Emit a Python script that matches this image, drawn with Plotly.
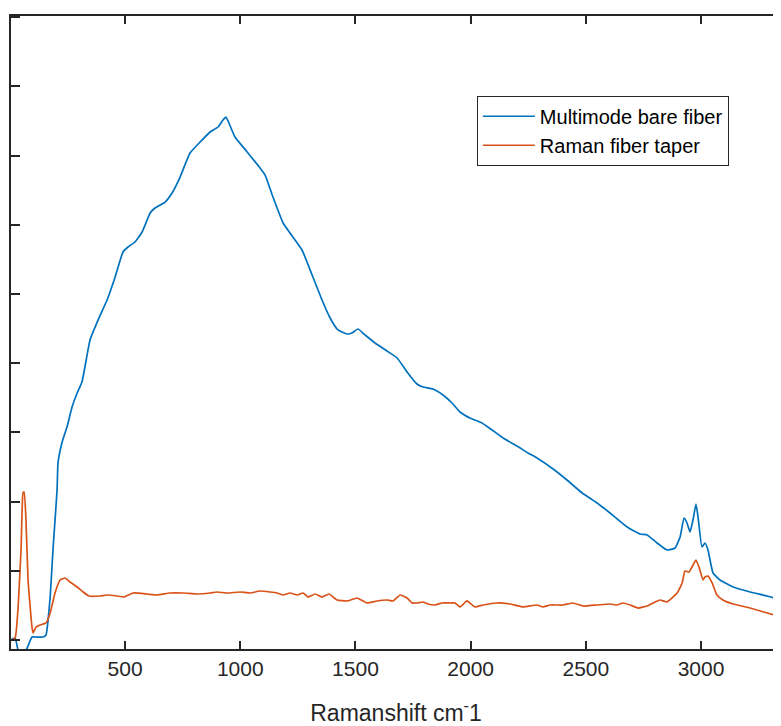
import plotly.graph_objects as go

# Raman shift (cm^-1) and intensity (a.u.)
bare_x = [8, 23, 44, 75, 96, 118, 144, 157, 166, 175, 188, 205, 209, 227, 248, 270,
          292, 313, 348, 385, 422, 457, 491, 513, 543, 574, 609, 630, 674, 704, 739,
          782, 826, 869, 904, 925, 938, 951, 977, 1030, 1086, 1108, 1142, 1186, 1216,
          1268, 1312, 1355, 1390, 1424, 1464, 1485, 1511, 1542, 1585, 1637, 1681, 1724,
          1767, 1793, 1837, 1880, 1919, 1954, 1997, 2049, 2093, 2141, 2201, 2249, 2288,
          2358, 2418, 2484, 2549, 2605, 2679, 2735, 2766, 2809, 2852, 2887, 2909, 2926,
          2939, 2952, 2965, 2978, 2987, 3004, 3017, 3030, 3052, 3082, 3139, 3213, 3287,
          3347, 3390]
bare_y = [14, 29, -260, -116, 43, 43, 43, 72, 289, 621, 1344, 2168, 2558, 2861, 3078,
          3367, 3569, 3728, 4335, 4640, 4913, 5245, 5607, 5679, 5751, 5896, 6170, 6242,
          6329, 6459, 6690, 7037, 7196, 7341, 7413, 7514, 7557, 7471, 7268, 7052, 6820,
          6719, 6401, 6026, 5881, 5636, 5274, 4913, 4653, 4480, 4422, 4436, 4494, 4407,
          4292, 4176, 4075, 3873, 3699, 3656, 3627, 3540, 3425, 3295, 3208, 3136, 3035,
          2919, 2803, 2702, 2630, 2471, 2312, 2124, 1980, 1835, 1633, 1532, 1517, 1402,
          1301, 1329, 1488, 1763, 1691, 1561, 1734, 1965, 1777, 1344, 1402, 1301, 968,
          867, 766, 694, 636, 578, 555]

taper_x = [8, 23, 36, 49, 57, 62, 70, 79, 96, 101, 114, 131, 157, 175, 196, 218, 240,
           261, 292, 318, 344, 391, 422, 465, 496, 535, 595, 639, 695, 752, 812, 869,
           899, 943, 999, 1043, 1086, 1129, 1160, 1186, 1216, 1247, 1273, 1294, 1325,
           1355, 1385, 1420, 1464, 1507, 1550, 1594, 1637, 1663, 1694, 1724, 1746, 1767,
           1793, 1815, 1845, 1876, 1911, 1932, 1954, 1984, 2019, 2054, 2115, 2171, 2227,
           2288, 2314, 2345, 2401, 2444, 2488, 2549, 2605, 2635, 2661, 2692, 2727, 2766,
           2792, 2822, 2852, 2896, 2918, 2930, 2948, 2965, 2978, 2991, 3009, 3017, 3030,
           3048, 3069, 3095, 3139, 3213, 3287, 3347, 3390]
taper_y = [0, 29, 477, 1344, 2124, 2139, 1734, 867, 188, 101, 188, 217, 246, 390, 679,
           867, 896, 838, 766, 694, 636, 636, 650, 636, 621, 679, 665, 650, 679, 679,
           665, 679, 694, 679, 694, 679, 708, 694, 679, 650, 679, 650, 679, 621, 665,
           621, 665, 578, 564, 607, 535, 564, 578, 564, 650, 607, 535, 535, 549, 520,
           506, 535, 535, 535, 477, 564, 477, 506, 535, 520, 477, 506, 477, 506, 506,
           535, 491, 506, 520, 506, 535, 506, 462, 491, 535, 578, 549, 679, 824, 997,
           983, 1084, 1156, 1055, 867, 910, 925, 824, 650, 578, 520, 462, 390, 332, 290]

ink = "#262626"
font = "Liberation Sans, Arial, sans-serif"

fig = go.Figure()
fig.add_trace(go.Scatter(x=bare_x, y=bare_y, mode="lines", name="Multimode bare fiber",
                         line=dict(color="#0072BD", width=1.7, shape="spline", smoothing=0.4)))
fig.add_trace(go.Scatter(x=taper_x, y=taper_y, mode="lines", name="Raman fiber taper",
                         line=dict(color="#D95319", width=1.7, shape="spline", smoothing=0.4)))

# page body adds an 8px offset, margins are trimmed to compensate
fig.update_layout(
    width=773, height=718,
    margin=dict(l=3, r=0, t=8, b=77),
    paper_bgcolor="white", plot_bgcolor="white",
    font=dict(family=font, color=ink),
    legend=dict(x=0.605, y=0.874, xanchor="left", yanchor="top",
                bordercolor=ink, borderwidth=1, bgcolor="white", itemwidth=52,
                font=dict(size=20, color="black")),
)
fig.update_xaxes(
    range=[5, 3347], tickvals=[500, 1000, 1500, 2000, 2500, 3000],
    ticks="inside", ticklen=8, tickwidth=1.5, tickcolor=ink,
    showline=True, linecolor=ink, linewidth=2, mirror="ticks",
    showgrid=False, zeroline=False,
    tickfont=dict(size=21, color=ink),
    title=dict(text="Ramanshift cm<sup>-</sup>1", font=dict(size=23, color=ink), standoff=28),
)
fig.update_yaxes(
    range=[-130, 9017], tickvals=list(range(0, 9001, 1000)), showticklabels=False,
    ticks="inside", ticklen=9, tickwidth=1.5, tickcolor=ink,
    showline=True, linecolor=ink, linewidth=2,
    showgrid=False, zeroline=False,
)

fig.write_html("out.html")
